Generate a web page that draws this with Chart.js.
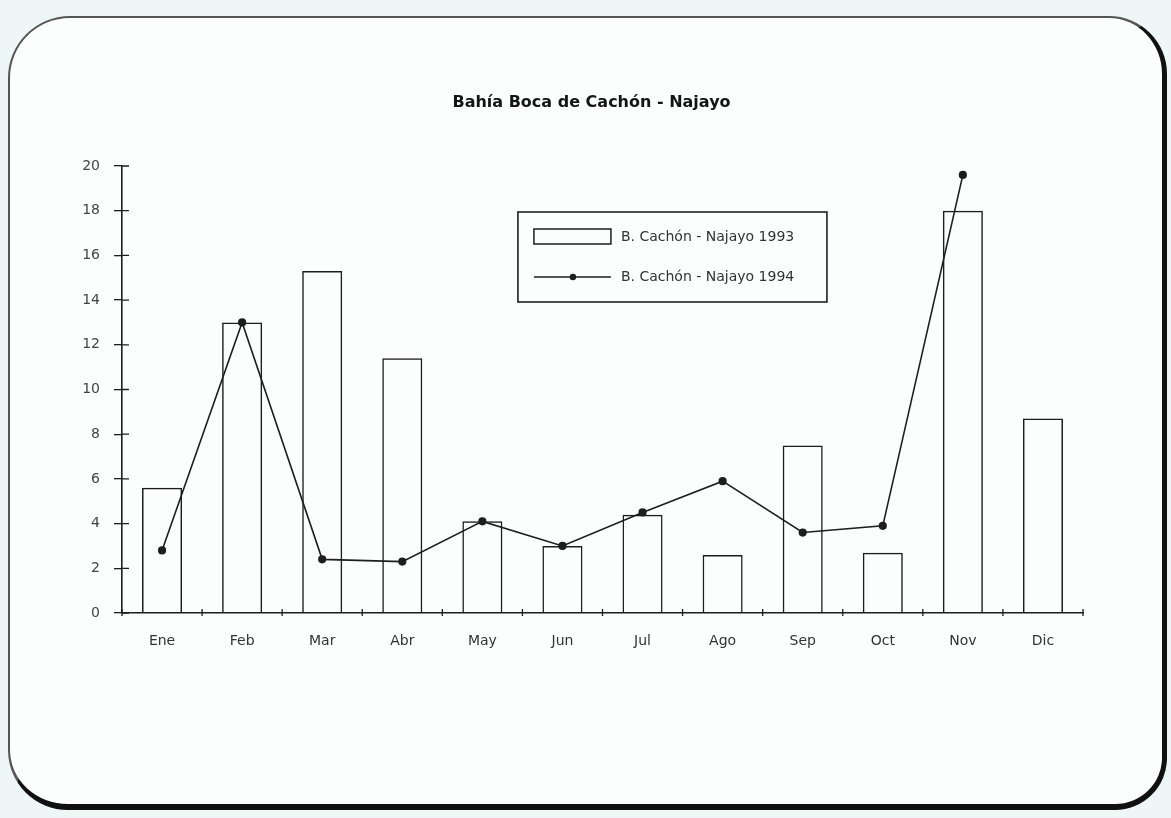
<!DOCTYPE html>
<html>
<head>
<meta charset="utf-8">
<script src="https://cdn.jsdelivr.net/npm/chart.js@4.4.1/dist/chart.umd.min.js"></script>
<style>
    html, body {
        margin: 0;
        padding: 0;
        background: #eef6f6;
        width: 1171px;
        height: 818px;
        overflow: hidden;
    }
    .frame {
        position: absolute;
        left: 8px;
        top: 16px;
        width: 1152px;
        height: 786px;
        background: #fcfdfd;
        border-top: 2px solid #555;
        border-left: 2px solid #555;
        border-right: 5px solid #111;
        border-bottom: 6px solid #111;
        border-radius: 62px 58px 52px 60px;
    }
    #chart {
        position: absolute;
        left: 0;
        top: 0;
    }
</style>
</head>
<body>
<div class="frame"></div>
<canvas id="chart" width="1171" height="818"></canvas>
<script>
const meses = ['Ene', 'Feb', 'Mar', 'Abr', 'May', 'Jun', 'Jul', 'Ago', 'Sep', 'Oct', 'Nov', 'Dic'];
const valores1993 = [5.6, 13.0, 15.3, 11.4, 4.1, 3.0, 4.4, 2.6, 7.5, 2.7, 18.0, 8.7];
const valores1994 = [2.8, 13.0, 2.4, 2.3, 4.1, 3.0, 4.5, 5.9, 3.6, 3.9, 19.6, null];
const etiquetas = ['B. Cachón - Najayo 1993', 'B. Cachón - Najayo 1994'];
const titulo = 'Bahía Boca de Cachón - Najayo';

const ink = '#1e1e1e';
const fuente = '"DejaVu Sans", "Liberation Sans", Arial, sans-serif';

// title sits a little left of the plot centre
const tituloArriba = {
    id: 'tituloArriba',
    afterDraw(chart) {
        const ctx = chart.ctx;
        const area = chart.chartArea;
        ctx.save();
        ctx.font = 'bold 16px ' + fuente;
        ctx.fillStyle = '#151515';
        ctx.textAlign = 'center';
        ctx.textBaseline = 'middle';
        ctx.fillText(titulo, (area.left + area.right) / 2 - 11, area.top - 63);
        ctx.restore();
    }
};

// y-axis ticks cross the axis line, so draw the inner half too
const cruzarMarcas = {
    id: 'cruzarMarcas',
    afterDraw(chart) {
        const ctx = chart.ctx;
        const y = chart.scales.y;
        const x = chart.scales.x;
        ctx.save();
        ctx.strokeStyle = ink;
        ctx.lineWidth = 1.3;
        ctx.beginPath();
        y.ticks.forEach(t => {
            const py = y.getPixelForValue(t.value);
            ctx.moveTo(x.left, py);
            ctx.lineTo(x.left + 7, py);
        });
        for (let i = 0; i <= meses.length; i++) {
            const px = x.left + (x.right - x.left) * i / meses.length;
            ctx.moveTo(px, y.bottom - 4);
            ctx.lineTo(px, y.bottom + 3);
        }
        ctx.stroke();
        ctx.restore();
    }
};

// boxed legend sitting inside the plot area
const leyendaCaja = {
    id: 'leyendaCaja',
    afterDraw(chart) {
        const ctx = chart.ctx;
        const area = chart.chartArea;
        const barras = chart.data.datasets.find(d => d.type === 'bar');
        const linea = chart.data.datasets.find(d => d.type === 'line');
        const left = area.left + (area.right - area.left) * 0.412;
        const top = area.top + 46;
        const w = 309, h = 90;
        ctx.save();
        ctx.strokeStyle = ink;
        ctx.lineWidth = 1.6;
        ctx.strokeRect(left, top, w, h);

        // bar swatch
        ctx.lineWidth = 1.5;
        ctx.strokeRect(left + 16, top + 17, 77, 15);

        // line swatch with marker
        const ly = top + 65;
        ctx.beginPath();
        ctx.moveTo(left + 16, ly);
        ctx.lineTo(left + 93, ly);
        ctx.stroke();
        ctx.fillStyle = ink;
        ctx.beginPath();
        ctx.arc(left + 55, ly, 3.2, 0, Math.PI * 2);
        ctx.fill();

        ctx.font = '14px ' + fuente;
        ctx.fillStyle = '#333';
        ctx.textBaseline = 'middle';
        ctx.fillText(barras.label, left + 103, top + 25);
        ctx.fillText(linea.label, left + 103, ly);
        ctx.restore();
    }
};

const ctx = document.getElementById('chart').getContext('2d');

new Chart(ctx, {
    data: {
        labels: meses,
        datasets: [{
            type: 'line',
            label: etiquetas[1],
            data: valores1994,
            borderColor: ink,
            borderWidth: 1.6,
            pointRadius: 3.3,
            pointBackgroundColor: ink,
            pointBorderColor: ink,
            tension: 0,
            order: 0,
        }, {
            type: 'bar',
            label: etiquetas[0],
            data: valores1993,
            backgroundColor: 'rgba(255, 255, 255, 0)',
            borderColor: ink,
            borderWidth: 1.5,
            barPercentage: 0.5,
            categoryPercentage: 1,
            order: 1,
        }],
    },
    options: {
        responsive: false,
        animation: false,
        layout: {
            padding: { left: 56, right: 88, top: 166, bottom: 165 },
        },
        plugins: {
            legend: { display: false },
            tooltip: { enabled: false },
            title: { display: false },
        },
        scales: {
            x: {
                grid: {
                    display: true,
                    drawOnChartArea: false,
                    drawTicks: false,
                },
                border: { color: ink, width: 1.6 },
                ticks: {
                    color: '#333',
                    padding: 20,
                    font: { family: fuente, size: 14 },
                },
                afterFit(scale) { scale.height = 40; },
            },
            y: {
                min: 0,
                max: 20,
                ticks: {
                    stepSize: 2,
                    color: '#444',
                    padding: 14,
                    font: { family: fuente, size: 14 },
                },
                grid: {
                    drawOnChartArea: false,
                    tickLength: 8,
                    color: ink,
                    lineWidth: 1.3,
                },
                border: { color: ink, width: 1.6 },
                afterFit(scale) { scale.width = 66; },
            },
        },
    },
    plugins: [tituloArriba, cruzarMarcas, leyendaCaja],
});
</script>
</body>
</html>
